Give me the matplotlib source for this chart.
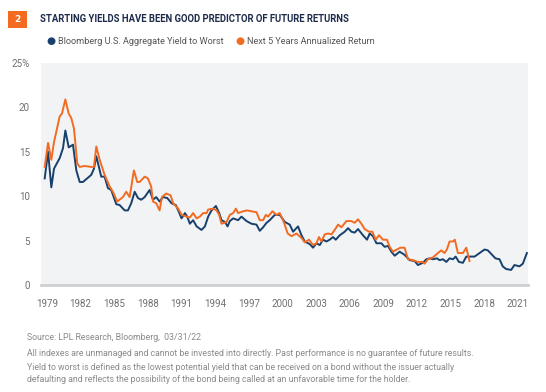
#!/usr/bin/env python3
"""Starting yields vs. next five years annualized return for the Bloomberg U.S. Aggregate."""

import matplotlib

matplotlib.use("Agg")
import matplotlib.pyplot as plt
from matplotlib.patches import Rectangle

NAVY = "#17406d"
ORANGE = "#f26b21"
TEXT_GRAY = "#6f6f6f"
PANEL = "#f2f3f5"

TITLE = "STARTING YIELDS HAVE BEEN GOOD PREDICTOR OF FUTURE RETURNS"
YIELD_LABEL = "Bloomberg U.S. Aggregate Yield to Worst"
RETURN_LABEL = "Next 5 Years Annualized Return"

# Bloomberg U.S. Aggregate yield to worst (%)
yield_years = [
    1978.82, 1979.12, 1979.41, 1979.65, 1980.16, 1980.45, 1980.66, 1980.96, 1981.34, 1981.64,
    1981.94, 1982.23, 1982.97, 1983.21, 1983.42, 1983.86, 1984.16, 1984.46, 1984.75, 1985.20,
    1985.50, 1985.95, 1986.24, 1986.53, 1986.84, 1987.13, 1987.42, 1987.73, 1988.17, 1988.47,
    1988.76, 1989.06, 1989.36, 1989.74, 1990.13, 1990.51, 1990.72, 1991.02, 1991.32, 1991.52,
    1991.76, 1992.05, 1992.36, 1992.80, 1993.10, 1993.39, 1993.69, 1994.08, 1994.37, 1994.58,
    1994.88, 1995.12, 1995.32, 1995.62, 1996.06, 1996.36, 1996.81, 1997.25, 1997.70, 1997.99,
    1998.29, 1998.59, 1998.88, 1999.33, 1999.77, 2000.22, 2000.66, 2000.96, 2001.40, 2001.71,
    2002.00, 2002.45, 2002.74, 2003.04, 2003.34, 2003.63, 2003.93, 2004.22, 2004.52, 2004.76,
    2005.12, 2005.56, 2005.86, 2006.16, 2006.45, 2006.75, 2007.19, 2007.55, 2007.79, 2008.08,
    2008.39, 2008.83, 2009.12, 2009.42, 2009.72, 2010.02, 2010.31, 2010.46, 2010.90, 2011.35,
    2011.79, 2012.09, 2012.53, 2012.84, 2013.13, 2013.42, 2013.78, 2014.02, 2014.32, 2014.62,
    2014.91, 2015.21, 2015.45, 2015.74, 2016.10, 2016.40, 2016.69, 2017.14, 2017.58, 2018.03,
    2018.32, 2018.62, 2019.00, 2019.36, 2019.65, 2019.95, 2020.40, 2020.69, 2021.14, 2021.44,
    2021.80,
]
yield_values = [
    12.0, 15.0, 11.0, 13.1, 14.3, 15.4, 17.4, 15.5, 15.8, 12.9,
    11.6, 11.6, 12.4, 13.1, 14.5, 12.2, 12.2, 10.9, 10.7, 9.1,
    9.0, 8.4, 8.4, 9.2, 10.5, 9.8, 9.6, 9.9, 10.7, 9.6,
    9.9, 9.4, 9.9, 9.8, 9.2, 9.0, 8.4, 7.5, 8.1, 7.7,
    6.9, 7.3, 6.6, 6.2, 6.6, 7.7, 8.4, 8.9, 8.1, 7.3,
    7.1, 6.6, 7.2, 7.5, 7.3, 7.7, 7.2, 6.9, 6.8, 6.1,
    6.5, 7.0, 7.3, 7.9, 7.9, 7.1, 6.8, 6.0, 6.6, 5.6,
    4.9, 4.6, 4.2, 4.7, 4.5, 5.1, 4.9, 5.1, 5.4, 5.1,
    5.6, 6.0, 6.4, 6.0, 5.9, 6.3, 5.6, 5.1, 5.8, 5.5,
    4.7, 4.7, 4.3, 4.4, 3.75, 3.3, 3.6, 3.75, 3.4, 2.8,
    2.7, 2.25, 2.5, 2.9, 3.0, 2.9, 3.0, 2.8, 2.9, 2.6,
    3.0, 2.9, 3.2, 2.6, 2.5, 3.2, 3.2, 3.2, 3.6, 4.0,
    3.9, 3.5, 3.0, 2.9, 2.1, 1.8, 1.7, 2.25, 2.1, 2.4,
    3.6,
]

# Next 5 years annualized return (%), ends five years before the data date
return_years = [
    1978.82, 1979.12, 1979.41, 1979.65, 1980.16, 1980.36, 1980.66, 1980.96, 1981.19, 1981.43,
    1981.72, 1981.94, 1982.38, 1982.97, 1983.21, 1983.42, 1983.72, 1984.16, 1984.61, 1984.90,
    1985.29, 1985.79, 1986.09, 1986.39, 1986.77, 1987.07, 1987.28, 1987.73, 1988.02, 1988.31,
    1988.47, 1988.76, 1989.06, 1989.27, 1989.65, 1990.04, 1990.27, 1990.72, 1991.02, 1991.47,
    1991.76, 1992.05, 1992.36, 1992.65, 1992.94, 1993.25, 1993.39, 1993.84, 1994.14, 1994.37,
    1994.58, 1995.03, 1995.32, 1995.62, 1995.86, 1996.06, 1996.51, 1996.86, 1997.25, 1997.70,
    1997.99, 1998.29, 1998.53, 1998.73, 1999.12, 1999.48, 1999.77, 2000.13, 2000.48, 2000.82,
    2001.26, 2001.71, 2002.00, 2002.38, 2002.74, 2003.04, 2003.27, 2003.49, 2003.78, 2004.08,
    2004.38, 2004.67, 2004.97, 2005.27, 2005.71, 2006.16, 2006.45, 2006.75, 2007.05, 2007.34,
    2007.73, 2008.03, 2008.32, 2008.62, 2008.97, 2009.33, 2009.57, 2009.86, 2010.22, 2010.52,
    2010.90, 2011.20, 2011.64, 2012.09, 2012.48, 2012.68, 2012.98, 2013.42, 2013.87, 2014.17,
    2014.46, 2014.67, 2014.91, 2015.21, 2015.38, 2015.65, 2016.10, 2016.40, 2016.69,
]
return_values = [
    13.3, 16.0, 14.1, 16.1, 19.0, 19.3, 20.9, 19.3, 18.8, 17.6,
    13.7, 13.3, 13.4, 13.3, 13.3, 15.6, 14.1, 12.4, 11.1, 10.5,
    9.4, 9.9, 10.5, 9.9, 12.9, 11.6, 11.6, 12.2, 12.0, 11.1,
    9.4, 9.2, 8.4, 9.9, 10.3, 10.1, 9.2, 8.6, 7.9, 7.7,
    7.6, 8.1, 7.5, 7.7, 8.1, 8.1, 8.5, 8.6, 8.4, 7.9,
    6.9, 7.1, 7.9, 8.1, 8.6, 8.1, 8.3, 8.4, 8.3, 8.2,
    7.3, 7.3, 7.9, 7.7, 8.3, 7.9, 8.1, 7.1, 5.8, 5.5,
    5.8, 5.3, 4.8, 5.1, 4.5, 4.7, 5.4, 4.9, 5.7, 5.8,
    5.7, 6.2, 6.8, 6.5, 7.2, 7.2, 7.0, 7.4, 6.9, 6.3,
    6.0, 6.0, 5.1, 5.6, 5.1, 5.1, 4.3, 3.75, 4.0, 4.2,
    4.2, 2.9, 2.8, 2.6, 2.6, 2.4, 2.9, 3.1, 3.6, 3.9,
    3.6, 4.0, 4.9, 4.9, 5.1, 3.6, 3.6, 4.2, 2.7,
]

x_ticks = list(range(1979, 2022, 3))
y_ticks = [0, 5, 10, 15, 20, 25]
y_tick_labels = ["0", "5", "10", "15", "20", "25%"]

FOOTNOTES = [
    "Source: LPL Research, Bloomberg,  03/31/22",
    "All indexes are unmanaged and cannot be invested into directly. Past performance is no guarantee of future results.",
    "Yield to worst is defined as the lowest potential yield that can be received on a bond without the issuer actually",
    "defaulting and reflects the possibility of the bond being called at an unfavorable time for the holder.",
]


def draw_header(fig):
    w, h = fig.get_size_inches() * fig.dpi
    fig.patches.append(Rectangle((8 / w, 1 - 28 / h), 19 / w, 17 / h, transform=fig.transFigure,
                                 facecolor=ORANGE, edgecolor="none"))
    fig.text(17.5 / w, 1 - 19.5 / h, "2", color="white", fontsize=6.5, fontweight="bold",
             ha="center", va="center")
    fig.text(40 / w, 1 - 18.5 / h, TITLE, color="#1d2a4a", fontsize=6.85, fontweight="bold",
             va="center", family="Roboto")

    # legend drawn by hand so it sits above the panel like the original
    for x, color, label in [(51, NAVY, YIELD_LABEL), (240, ORANGE, RETURN_LABEL)]:
        fig.text(x / w, 1 - 41 / h, "\u25cf", color=color, fontsize=7.5, ha="center", va="center")
        fig.text((x + 7) / w, 1 - 41.5 / h, label, color="#555555", fontsize=6.6, va="center",
                 family="Roboto")


def draw_footer(fig):
    w, h = fig.get_size_inches() * fig.dpi
    for y, line in zip([338, 353, 368, 380], FOOTNOTES):
        fig.text(27 / w, 1 - y / h, line, color="#8a8a8a", fontsize=6.35, va="center", family="Roboto")


def main():
    fig = plt.figure(figsize=(5.46, 3.92), dpi=100, facecolor="white")
    ax = fig.add_axes([41 / 546, 1 - 285 / 392, 487 / 546, 222 / 392])
    ax.set_facecolor(PANEL)

    ax.plot(yield_years, yield_values, color=NAVY, linewidth=1.4, solid_joinstyle="round")
    ax.plot(return_years, return_values, color=ORANGE, linewidth=1.4, solid_joinstyle="round")

    ax.set_xlim(1978.49, 2021.9)
    ax.set_ylim(0, 25)
    ax.set_xticks(x_ticks)
    ax.set_xticklabels([str(t) for t in x_ticks], family="Roboto")
    ax.set_yticks(y_ticks)
    ax.set_yticklabels(y_tick_labels, family="Roboto")
    ax.tick_params(length=0, labelsize=7, colors=TEXT_GRAY)
    ax.tick_params(axis="x", pad=10)
    ax.tick_params(axis="y", pad=8)
    for name, spine in ax.spines.items():
        spine.set_visible(name == "bottom")
    ax.spines["bottom"].set_color("#cfd0d3")
    ax.spines["bottom"].set_linewidth(2)

    draw_header(fig)
    draw_footer(fig)
    fig.savefig("out.png", dpi=100, facecolor="white")
    plt.close(fig)


if __name__ == "__main__":
    main()
